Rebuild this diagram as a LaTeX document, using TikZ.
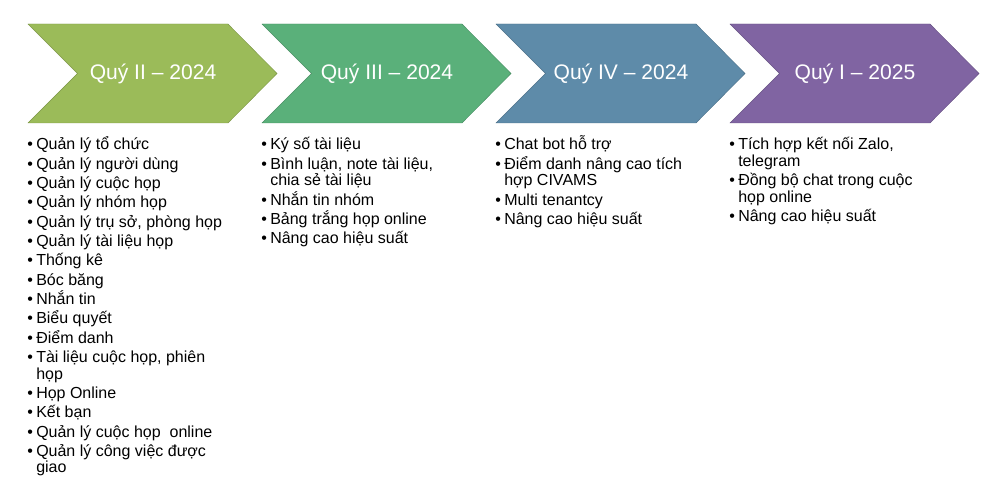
\documentclass[tikz,border=0pt]{standalone}
\usepackage{fontspec}
\setmainfont{Liberation Sans}
\usepackage{xcolor}
\definecolor{cOlive}{RGB}{155,187,89}
\definecolor{cTeal}{RGB}{90,176,122}
\definecolor{cSteel}{RGB}{94,139,169}
\definecolor{cPlum}{RGB}{128,100,162}
\tikzset{
	qtitle/.style={text=white, font=\fontsize{15.8}{18}\selectfont, inner sep=0pt},
	qlist/.style ={text=black, font=\fontsize{12}{12.3}\selectfont, inner sep=0pt, anchor=base west},
}
\newcommand{\qtrChev}[4]{% left edge, colour, node name, label
	\filldraw[fill=#2, draw=#2!80!black, line width=0.3pt] (#1,24) -- ({#1+200},24) -- ({#1+249},73.5) -- ({#1+200},123) -- (#1,123) -- ({#1+49.5},73.5) -- cycle;
	\node[qtitle] (#3) at ({#1+125},73.5) {#4};}
% smashed so tall accents do not push rows apart
\newcommand{\itm}[1]{\textbullet & \smash{#1}\\[2.2pt]}
\newcommand{\itmw}[2]{\textbullet & \smash{#1}\\ & \smash{#2}\\[2.2pt]}
\begin{document}
\begin{tikzpicture}[x=0.75pt, y=-0.75pt]
	\useasboundingbox (0,0) rectangle (998,495);
	% quarter chevrons
	\qtrChev{28}{cOlive}{q1}{Quý II – 2024}
	\qtrChev{262}{cTeal}{q2}{Quý III – 2024}
	\qtrChev{496}{cSteel}{q3}{Quý IV – 2024}
	\qtrChev{730}{cPlum}{q4}{Quý I – 2025}
	% features, quarter 1
	\node[qlist] (f1) at (27,150) {\begin{tabular}[t]{@{}p{6.75pt}@{}l@{}}
		\itm{Quản lý tổ chức}
		\itm{Quản lý người dùng}
		\itm{Quản lý cuộc họp}
		\itm{Quản lý nhóm họp}
		\itm{Quản lý trụ sở, phòng họp}
		\itm{Quản lý tài liệu họp}
		\itm{Thống kê}
		\itm{Bóc băng}
		\itm{Nhắn tin}
		\itm{Biểu quyết}
		\itm{Điểm danh}
		\itmw{Tài liệu cuộc họp, phiên}{họp}
		\itm{Họp Online}
		\itm{Kết bạn}
		\itm{Quản lý cuộc họp\ \ online}
		\itmw{Quản lý công việc được}{giao}
	\end{tabular}};
	% features, quarter 2
	\node[qlist] (f2) at (261,150) {\begin{tabular}[t]{@{}p{6.75pt}@{}l@{}}
		\itm{Ký số tài liệu}
		\itmw{Bình luận, note tài liệu,}{chia sẻ tài liệu}
		\itm{Nhắn tin nhóm}
		\itm{Bảng trắng họp online}
		\itm{Nâng cao hiệu suất}
	\end{tabular}};
	% features, quarter 3
	\node[qlist] (f3) at (495,150) {\begin{tabular}[t]{@{}p{6.75pt}@{}l@{}}
		\itm{Chat bot hỗ trợ}
		\itmw{Điểm danh nâng cao tích}{hợp CIVAMS}
		\itm{Multi tenantcy}
		\itm{Nâng cao hiệu suất}
	\end{tabular}};
	% features, quarter 4
	\node[qlist] (f4) at (729,150) {\begin{tabular}[t]{@{}p{6.75pt}@{}l@{}}
		\itmw{Tích hợp kết nối Zalo,}{telegram}
		\itmw{Đồng bộ chat trong cuộc}{họp online}
		\itm{Nâng cao hiệu suất}
	\end{tabular}};
\end{tikzpicture}
\end{document}
